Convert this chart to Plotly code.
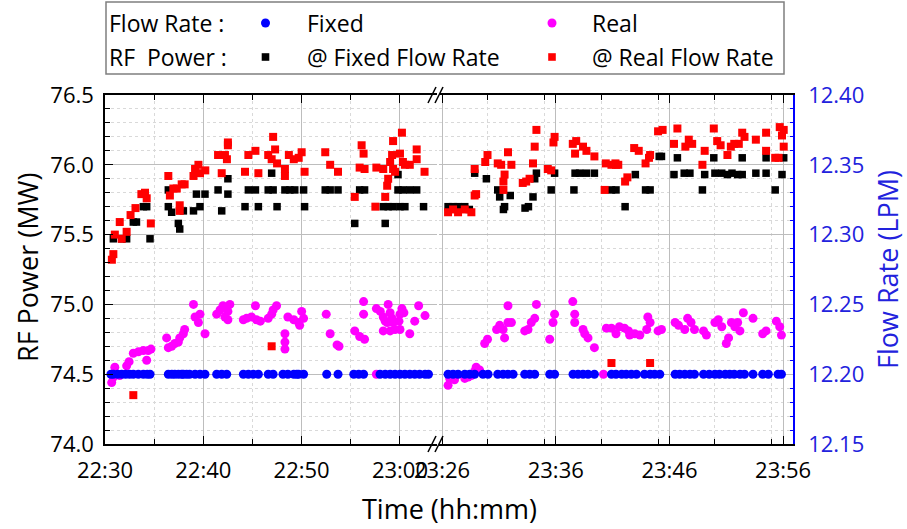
import pandas as pd
import plotly.graph_objects as go

# ---------------- data ----------------
# Session 1 (minutes after 22:30)
fixed_flow_t1 = [0.6, 0.85, 1.3, 1.7, 2.1, 2.5, 2.88, 3.39, 3.9, 4.3, 4.58, 6.44, 6.8, 7.1, 7.46, 7.8, 7.97, 8.3, 8.6,
                 9.16, 9.66, 10.17, 11.36, 11.87, 12.38, 14.07, 14.58, 15.09, 15.6, 16.6, 17.1, 18.1, 18.6, 19.2,
                 19.5, 19.7, 20.2, 22.55, 23.7, 25.3, 25.8, 26.3, 27.97, 28.5, 29.0, 29.5, 30.0, 30.5, 31.0, 31.5,
                 32.0, 32.55, 32.9]
fixed_flow_v1 = [12.20] * len(fixed_flow_t1)

real_flow_t1 = [0.68, 0.85, 1.0, 1.5, 2.2, 2.45, 2.88, 3.39, 3.9, 4.24, 4.4, 4.68, 6.27, 6.44, 6.78, 7.1, 7.46, 7.6,
                7.97, 8.1, 9.0, 9.16, 9.5, 9.66, 10.17, 11.36, 11.7, 12.0, 12.2, 12.5, 12.5, 12.7, 14.07, 14.4,
                14.9, 15.3, 15.4, 15.8, 16.6, 16.95, 17.1, 17.45, 18.3, 18.3, 18.3, 18.6, 19.2, 19.7, 19.8, 20.0,
                20.2, 22.5, 22.9, 23.6, 23.8, 25.4, 25.9, 26.3, 26.3, 26.4, 27.6, 27.6, 28.0, 28.3, 28.3, 28.5,
                28.7, 28.8, 29.0, 29.0, 29.2, 29.3, 29.5, 29.9, 30.0, 30.0, 30.2, 30.4, 31.0, 31.5, 31.9, 32.55]
real_flow_v1 = [12.194, 12.198, 12.205, 12.199, 12.206, 12.209, 12.215, 12.216, 12.217, 12.210, 12.217, 12.218,
                12.226, 12.219, 12.220, 12.222, 12.223, 12.226, 12.229, 12.232, 12.250, 12.241, 12.237, 12.243,
                12.229, 12.243, 12.246, 12.249, 12.241, 12.245, 12.239, 12.250, 12.239, 12.240, 12.241, 12.249,
                12.239, 12.238, 12.240, 12.243, 12.246, 12.249, 12.229, 12.223, 12.218, 12.241, 12.239, 12.237,
                12.235, 12.245, 12.240, 12.243, 12.229, 12.221, 12.220, 12.231, 12.227, 12.252, 12.243, 12.225,
                12.200, 12.247, 12.245, 12.241, 12.231, 12.238, 12.237, 12.250, 12.244, 12.231, 12.240, 12.237,
                12.232, 12.238, 12.243, 12.232, 12.247, 12.244, 12.229, 12.238, 12.249, 12.242]

fixed_pow_t1 = [0.85, 1.7, 2.2, 2.88, 3.2, 3.9, 4.24, 4.58, 6.44, 6.44, 6.78, 7.46, 7.6, 7.97, 9.0, 9.3, 9.66, 10.17,
                11.5, 11.87, 12.5, 12.5, 14.24, 14.58, 15.3, 15.6, 16.6, 16.95, 17.1, 17.5, 18.3, 18.8, 19.3, 20.2,
                20.3, 22.4, 22.9, 23.7, 25.4, 25.9, 26.4, 28.3, 28.5, 28.8, 29.3, 29.8, 29.8, 30.0, 30.3, 30.5,
                31.0, 31.7, 32.4]
fixed_pow_v1 = [75.47, 75.47, 75.47, 75.59, 75.59, 75.70, 75.70, 75.47, 75.82, 75.70, 75.66, 75.58, 75.54, 75.67,
                75.67, 75.79, 75.70, 75.79, 75.82, 75.67, 75.90, 75.79, 75.70, 75.82, 75.82, 75.70, 75.82, 75.94,
                75.82, 75.70, 75.82, 75.82, 75.82, 75.82, 75.70, 75.82, 75.82, 75.82, 75.58, 75.82, 75.82, 75.70,
                75.58, 75.70, 75.70, 75.82, 75.93, 75.70, 75.82, 75.70, 75.82, 75.82, 75.70]

real_pow_t1 = [0.7, 0.85, 1.0, 1.5, 1.7, 2.2, 2.6, 2.88, 3.1, 3.7, 4.07, 4.24, 4.66, 6.44, 6.6, 6.95, 7.3, 7.6, 7.6,
               7.8, 8.1, 9.0, 9.16, 9.5, 9.66, 10.2, 11.5, 11.87, 12.2, 12.4, 12.5, 12.5, 14.24, 14.58, 15.3, 15.6,
               16.6, 16.95, 16.95, 17.1, 17.3, 17.5, 18.3, 18.3, 18.7, 19.2, 19.7, 20.0, 20.3, 22.4, 22.9, 23.7,
               25.4, 25.9, 26.1, 26.3, 26.4, 27.5, 27.6, 28.3, 28.5, 28.7, 28.8, 29.0, 29.2, 29.3, 29.3, 29.5,
               30.0, 30.2, 30.3, 30.5, 31.0, 31.7, 31.7, 32.5]
real_pow_v1 = [75.32, 75.36, 75.50, 75.59, 75.47, 75.52, 75.64, 74.35, 75.69, 75.79, 75.80, 75.76, 75.58, 75.92,
               75.78, 75.83, 75.83, 75.71, 75.67, 75.86, 75.86, 75.92, 75.97, 76.00, 75.94, 75.96, 76.07, 75.94,
               76.07, 76.04, 76.14, 76.16, 75.95, 76.07, 76.10, 75.94, 76.07, 76.04, 74.70, 76.20, 76.11, 76.01,
               75.97, 75.92, 76.07, 76.04, 76.05, 76.09, 75.95, 76.09, 76.00, 75.95, 75.77, 75.98, 76.14, 76.08,
               75.97, 75.70, 75.98, 75.97, 75.77, 75.85, 75.90, 76.02, 76.07, 76.17, 75.97, 75.95, 76.08, 76.23,
               76.02, 76.00, 76.00, 76.11, 76.04, 75.95]

# Session 2 (minutes after 23:26)
fixed_flow_t2 = [0.53, 0.97, 1.41, 2.0, 2.43, 2.87, 3.6, 4.05, 4.9, 5.37, 5.8, 6.25, 7.27, 7.71, 8.15, 9.47, 9.9,
                 11.52, 11.96, 12.4, 12.84, 13.4, 14.9, 15.3, 15.8, 16.2, 16.65, 17.1, 17.8, 18.3, 18.7, 19.15,
                 20.5, 20.9, 21.35, 21.8, 22.2, 23.0, 23.5, 24.0, 24.4, 24.9, 25.3, 25.7, 26.2, 26.6, 27.35, 28.2,
                 28.7, 29.55, 29.85]
fixed_flow_v2 = [12.20] * len(fixed_flow_t2)

real_flow_t2 = [0.53, 0.67, 1.1, 2.0, 2.3, 2.58, 2.87, 3.0, 3.3, 3.75, 4.0, 4.8, 5.07, 5.37, 5.5, 5.8, 5.8, 6.1,
                7.27, 7.56, 7.85, 8.15, 8.3, 9.47, 9.76, 9.9, 11.5, 11.67, 11.67, 12.4, 12.55, 12.84, 13.4, 14.2,
                14.45, 14.9, 15.3, 15.6, 16.05, 16.4, 16.5, 16.95, 17.4, 18.0, 18.1, 18.3, 19.0, 19.3, 20.5, 20.8,
                21.35, 21.6, 21.9, 22.2, 23.0, 23.25, 24.0, 24.3, 24.6, 25.0, 25.2, 25.45, 25.75, 26.0, 26.2, 26.5,
                27.35, 28.2, 28.5, 29.4, 29.7, 29.85]
real_flow_v2 = [12.192, 12.197, 12.196, 12.197, 12.198, 12.199, 12.202, 12.205, 12.203, 12.222, 12.225, 12.232,
                12.235, 12.232, 12.226, 12.249, 12.237, 12.237, 12.231, 12.232, 12.237, 12.240, 12.250, 12.225,
                12.237, 12.243, 12.252, 12.243, 12.237, 12.232, 12.229, 12.226, 12.219, 12.200, 12.233, 12.233,
                12.229, 12.234, 12.233, 12.231, 12.228, 12.229, 12.228, 12.232, 12.241, 12.237, 12.231, 12.232,
                12.237, 12.235, 12.232, 12.240, 12.237, 12.232, 12.231, 12.228, 12.237, 12.239, 12.234, 12.222,
                12.226, 12.237, 12.234, 12.237, 12.231, 12.244, 12.240, 12.229, 12.231, 12.238, 12.234, 12.228]

fixed_pow_t2 = [0.53, 0.97, 1.41, 2.0, 2.4, 2.87, 3.9, 4.9, 5.07, 5.4, 5.5, 6.0, 7.3, 7.6, 8.0, 8.15, 8.3, 9.6, 9.9,
                11.6, 11.7, 12.1, 12.7, 13.4, 14.9, 15.3, 16.1, 17.0, 17.9, 18.3, 19.1, 19.3, 20.4, 20.7, 21.3,
                21.8, 22.9, 23.1, 23.9, 24.0, 24.6, 25.1, 25.5, 26.0, 26.4, 26.4, 27.6, 28.5, 28.5, 29.3, 29.9,
                30.05]
fixed_pow_v2 = [75.70, 75.70, 75.70, 75.70, 75.68, 75.94, 75.90, 75.82, 75.77, 75.68, 75.70, 75.78, 75.69, 75.70,
                75.77, 75.90, 75.94, 75.82, 75.94, 75.82, 75.94, 75.94, 75.94, 75.94, 75.82, 75.82, 75.70, 75.93,
                75.82, 75.82, 76.06, 76.06, 75.93, 76.05, 75.94, 75.94, 75.82, 75.93, 76.05, 75.94, 75.94, 75.93,
                75.94, 75.93, 75.93, 76.05, 75.94, 75.94, 76.05, 75.82, 75.93, 76.05]

real_pow_t2 = [0.53, 0.97, 1.41, 2.0, 2.58, 2.87, 3.0, 2.87, 3.8, 4.0, 4.9, 5.2, 5.4, 5.5, 5.4, 5.8, 6.1, 7.1, 7.4,
               7.7, 8.0, 8.15, 8.3, 9.3, 9.6, 9.8, 9.9, 11.5, 11.7, 11.8, 12.4, 12.7, 13.4, 14.3, 14.4, 14.9, 15.3,
               14.9, 15.25, 15.5, 16.1, 16.3, 16.9, 17.3, 17.9, 18.2, 18.3, 18.3, 19.0, 19.4, 20.4, 20.7, 21.4,
               21.7, 22.0, 22.9, 23.1, 23.9, 24.2, 24.5, 25.1, 25.4, 25.7, 26.1, 26.4, 26.6, 27.6, 28.5, 28.5,
               29.3, 29.6, 29.7, 29.9, 30.05, 30.05]
real_pow_v2 = [75.66, 75.68, 75.66, 75.68, 75.66, 75.78, 75.79, 75.97, 76.02, 76.07, 76.01, 76.00, 75.88, 75.93,
               75.82, 76.09, 76.00, 75.87, 75.88, 75.90, 76.01, 76.13, 76.25, 75.97, 75.96, 76.16, 76.20, 76.15,
               76.08, 76.17, 76.13, 76.10, 76.06, 75.82, 76.01, 76.00, 76.00, 74.58, 76.01, 76.00, 75.88, 75.91,
               76.12, 76.10, 76.01, 76.05, 76.07, 74.58, 76.24, 76.25, 76.15, 76.26, 76.13, 76.18, 76.15, 76.00,
               76.10, 76.26, 76.17, 76.14, 76.07, 76.13, 76.15, 76.15, 76.23, 76.20, 76.18, 76.23, 76.10, 76.05,
               76.05, 76.27, 76.21, 76.25, 76.13]

start1 = "2000-01-01 22:30:00"
start2 = "2000-01-01 23:26:00"
x1_range = ["2000-01-01 22:30:00", "2000-01-01 23:03:46"]
x2_range = ["2000-01-01 23:25:44", "2000-01-01 23:56:52"]
y_range = [74.0, 76.5]
y2_range = [12.15, 12.40]


def to_time(start, mins):
    return pd.Timestamp(start) + pd.to_timedelta(mins, unit="m")


BLUE, MAG, BLK, RED = "#0000FF", "#FF00FF", "#000000", "#FF0000"
AXBLUE = "#2222dd"
FONT = "Open Sans"

fig = go.Figure()
for start, xa, ft, fv, rt, rv, pt, pv, qt, qv in [
    (start1, "x", fixed_flow_t1, fixed_flow_v1, real_flow_t1, real_flow_v1, fixed_pow_t1, fixed_pow_v1, real_pow_t1, real_pow_v1),
    (start2, "x2", fixed_flow_t2, fixed_flow_v2, real_flow_t2, real_flow_v2, fixed_pow_t2, fixed_pow_v2, real_pow_t2, real_pow_v2),
]:
    fig.add_trace(go.Scatter(x=to_time(start, rt), y=rv, xaxis=xa, yaxis="y2", mode="markers",
                             marker=dict(color=MAG, size=9, symbol="circle"), showlegend=False))
    fig.add_trace(go.Scatter(x=to_time(start, ft), y=fv, xaxis=xa, yaxis="y2", mode="markers",
                             marker=dict(color=BLUE, size=9, symbol="circle"), showlegend=False))
    fig.add_trace(go.Scatter(x=to_time(start, pt), y=pv, xaxis=xa, yaxis="y", mode="markers",
                             marker=dict(color=BLK, size=7.5, symbol="square"), showlegend=False))
    fig.add_trace(go.Scatter(x=to_time(start, qt), y=qv, xaxis=xa, yaxis="y", mode="markers",
                             marker=dict(color=RED, size=8, symbol="square"), showlegend=False))

L, R, T, B = 105, 793, 95, 444
W, H = R - L, B - T


def px(X):
    return (X - L) / W


def py(Y):
    return (B - Y) / H


xcommon = dict(type="date", tickformat="%H:%M", dtick=600000, ticks="inside", ticklen=8, tickcolor="black",
               showline=True, linecolor="black", linewidth=1.5, mirror="ticks",
               showgrid=True, gridcolor="#bdbdbd", gridwidth=1,
               tickfont=dict(family=FONT, size=22, color="black"), ticklabelstandoff=6,
               minor=dict(dtick=300000, ticks="inside", ticklen=5, tickcolor="black",
                          showgrid=True, gridcolor="#d9d9d9", griddash="dot", gridwidth=1),
               zeroline=False, anchor="y")

fig.update_layout(
    width=907, height=529,
    margin=dict(l=L, r=907 - R, t=T, b=529 - B),
    paper_bgcolor="white", plot_bgcolor="white",
    font=dict(family=FONT, color="black"),
    showlegend=False,
    xaxis=dict(domain=[0, px(437)], range=x1_range, tick0=start1, **xcommon),
    xaxis2=dict(domain=[px(439), 1], range=x2_range, tick0=start2, **xcommon),
    yaxis=dict(range=y_range, dtick=0.5, tickformat=".1f", anchor="x",
               ticks="inside", ticklen=8, tickcolor="black", showline=True, linecolor="black", linewidth=1.5,
               showgrid=True, gridcolor="#bdbdbd", zeroline=False,
               tickfont=dict(family=FONT, size=22, color="black"), ticklabelstandoff=5,
               minor=dict(dtick=0.1, ticks="inside", ticklen=5, tickcolor="black",
                          showgrid=True, gridcolor="#d9d9d9", griddash="dot")),
    yaxis2=dict(range=y2_range, dtick=0.05, tickformat=".2f", overlaying="y", anchor="x2", side="right",
                ticks="inside", ticklen=8, tickcolor=BLUE, showline=True, linecolor=BLUE, linewidth=1.5,
                showgrid=False, zeroline=False,
                tickfont=dict(family=FONT, size=22, color=AXBLUE), ticklabelstandoff=9,
                minor=dict(dtick=0.01, ticks="inside", ticklen=5, tickcolor=BLUE, showgrid=False)),
)

shapes = []
# axis-break marks
for yc in (T, B):
    for x0 in (428, 435):
        shapes.append(dict(type="line", xref="paper", yref="paper", x0=px(x0), y0=py(yc + 8),
                           x1=px(x0 + 8), y1=py(yc - 8), line=dict(color="black", width=1.5)))
# legend box
shapes.append(dict(type="rect", xref="paper", yref="paper", x0=px(106), x1=px(784), y0=py(74), y1=py(2),
                   line=dict(color="#7f7f7f", width=1.5), fillcolor="white"))
for cx, cy, col, kind in [(265.5, 23, BLUE, "circle"), (552, 23, MAG, "circle"),
                          (265.5, 57, BLK, "rect"), (552, 57, RED, "rect")]:
    rr = 4.5 if kind == "circle" else 3.8
    shapes.append(dict(type=kind, xref="paper", yref="paper", x0=px(cx - rr), x1=px(cx + rr),
                       y0=py(cy + rr), y1=py(cy - rr), fillcolor=col, line=dict(width=0)))
fig.update_layout(shapes=shapes)

ann = []
for X, Y, txt in [(107, 23, "Flow Rate :"), (305, 23, "Fixed"), (590, 23, "Real"),
                  (107, 57, "RF\u00a0 Power :"), (305, 57, "@ Fixed Flow Rate"), (590, 57, "@ Real Flow Rate")]:
    ann.append(dict(xref="paper", yref="paper", x=px(X), y=py(Y), text=txt, showarrow=False,
                    xanchor="left", yanchor="middle", font=dict(family=FONT, size=23, color="black")))
ann.append(dict(xref="paper", yref="paper", x=px(27), y=py(268), text="RF Power (MW)", textangle=-90,
                showarrow=False, xanchor="center", yanchor="middle", font=dict(family=FONT, size=27, color="black")))
ann.append(dict(xref="paper", yref="paper", x=px(449), y=py(508), text="Time (hh:mm)",
                showarrow=False, xanchor="center", yanchor="middle", font=dict(family=FONT, size=27, color="black")))
ann.append(dict(xref="paper", yref="paper", x=px(887), y=py(270), text="Flow Rate (LPM)", textangle=-90,
                showarrow=False, xanchor="center", yanchor="middle", font=dict(family=FONT, size=27, color=AXBLUE)))
fig.update_layout(annotations=ann)

fig.write_html("out.html", config={"displayModeBar": False},
               post_script="document.body.style.margin='0';document.body.style.padding='0';")
